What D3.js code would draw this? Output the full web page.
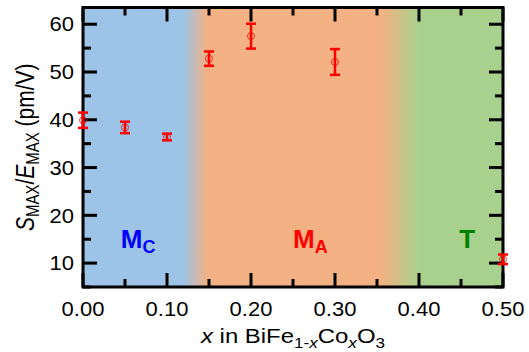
<!DOCTYPE html>
<html>
<head>
<meta charset="utf-8">
<script src="https://cdn.jsdelivr.net/npm/d3@7"></script>
<style>
	body { margin: 0; background: #fff; }
	text { font-family: 'Liberation Sans', Arial, sans-serif; }
</style>
</head>
<body>
<svg id="chart" width="529" height="352"></svg>
<script>
// NOTE data
const xValues = [0.0, 0.05, 0.1, 0.15, 0.2, 0.3, 0.5];
const yValues = [39.9, 38.4, 36.4, 52.8, 57.5, 52.1, 10.8];
const yErrors = [1.6, 1.2, 0.7, 1.5, 2.6, 2.7, 1.0];

const xTicks = [0, 0.1, 0.2, 0.3, 0.4, 0.5];
const xMinor = [0.05, 0.15, 0.25, 0.35, 0.45];
const yTicks = [10, 20, 30, 40, 50, 60];
const yMinor = [5, 15, 25, 35, 45, 55];

// phase background: [x, colour]
const phaseX = [0, 0.12, 0.148, 0.354, 0.4, 0.5];
const phaseColors = ['#9dc3e6', '#9dc3e6', '#f4b183', '#f4b183', '#a9d18e', '#a9d18e'];

const phaseNames = ['M', 'M', 'T'];
const phaseSubs = ['C', 'A', ''];
const phaseLabelX = [0.045, 0.25, 0.448];
const phaseLabelY = [13.2, 13.2, 13.2];
const phaseLabelColors = ['#0000ff', '#ff0000', '#008000'];

const svg = d3.select('#chart');
const margin = { left: 83, top: 7.5, right: 26, bottom: 65 };
const width = 529, height = 352;
const stretch = 1.1; // text in the picture is a little wide

const x = d3.scaleLinear().domain([0, 0.5]).range([margin.left, width - margin.right]);
const y = d3.scaleLinear().domain([5, 63.5]).range([height - margin.bottom, margin.top]);

// gradient background
const grad = svg.append('defs').append('linearGradient')
	.attr('id', 'phase')
	.attr('gradientUnits', 'userSpaceOnUse')
	.attr('x1', x(0)).attr('x2', x(0.5))
	.attr('y1', 0).attr('y2', 0);

grad.selectAll('stop')
	.data(phaseX)
	.enter()
	.append('stop')
	.attr('offset', (d) => d / 0.5)
	.attr('stop-color', (d, i) => phaseColors[i]);

svg.append('rect')
	.attr('x', x(0)).attr('y', y(63.5))
	.attr('width', x(0.5) - x(0))
	.attr('height', y(5) - y(63.5))
	.attr('fill', 'url(#phase)');

function place(px, py) {
	return 'translate(' + px + ',' + py + ') scale(' + stretch + ',1)';
}

// phase labels
phaseNames.forEach((name, i) => {
	const t = svg.append('text')
		.attr('x', x(phaseLabelX[i]))
		.attr('y', y(phaseLabelY[i]))
		.attr('fill', phaseLabelColors[i])
		.attr('font-weight', 'bold')
		.attr('font-size', 26)
		.text(name);
	if (phaseSubs[i]) {
		t.append('tspan')
			.attr('font-size', 18)
			.attr('dy', 5)
			.text(phaseSubs[i]);
	}
});

// ticks: inward on all four sides
const tickLen = 14, minorLen = 8;

function drawTicks(vals, len, axis) {
	vals.forEach((v) => {
		if (axis === 'x') {
			svg.append('line').attr('x1', x(v)).attr('x2', x(v))
				.attr('y1', y(5)).attr('y2', y(5) - len)
				.attr('stroke', '#000').attr('stroke-width', 3);
			svg.append('line').attr('x1', x(v)).attr('x2', x(v))
				.attr('y1', y(63.5)).attr('y2', y(63.5) + len)
				.attr('stroke', '#000').attr('stroke-width', 3);
		} else {
			svg.append('line').attr('y1', y(v)).attr('y2', y(v))
				.attr('x1', x(0)).attr('x2', x(0) + len)
				.attr('stroke', '#000').attr('stroke-width', 3);
			svg.append('line').attr('y1', y(v)).attr('y2', y(v))
				.attr('x1', x(0.5)).attr('x2', x(0.5) - len)
				.attr('stroke', '#000').attr('stroke-width', 3);
		}
	});
}

drawTicks(xTicks, tickLen, 'x');
drawTicks(xMinor, minorLen, 'x');
drawTicks(yTicks, tickLen, 'y');
drawTicks(yMinor, minorLen, 'y');

// frame
svg.append('rect')
	.attr('x', x(0)).attr('y', y(63.5))
	.attr('width', x(0.5) - x(0))
	.attr('height', y(5) - y(63.5))
	.attr('fill', 'none')
	.attr('stroke', '#000')
	.attr('stroke-width', 3);

// tick labels
svg.selectAll('.xlab')
	.data(xTicks)
	.enter()
	.append('text')
	.attr('class', 'xlab')
	.attr('transform', (d) => place(x(d), 316))
	.attr('text-anchor', 'middle')
	.attr('font-size', 20)
	.text((d) => d3.format('.2f')(d));

svg.selectAll('.ylab')
	.data(yTicks)
	.enter()
	.append('text')
	.attr('class', 'ylab')
	.attr('transform', (d) => place(74, y(d) + 7.2))
	.attr('text-anchor', 'end')
	.attr('font-size', 20)
	.text((d) => d);

// axis titles
const xt = svg.append('text')
	.attr('transform', 'translate(' + (x(0) + x(0.5)) / 2 + ',343) scale(1.14,1)')
	.attr('text-anchor', 'middle')
	.attr('font-size', 21);
xt.append('tspan').attr('font-style', 'italic').text('x');
xt.append('tspan').text(' in BiFe');
xt.append('tspan').attr('font-size', 15).attr('dy', 5).text('1-');
xt.append('tspan').attr('font-size', 15).attr('font-style', 'italic').text('x');
xt.append('tspan').attr('dy', -5).text('Co');
xt.append('tspan').attr('font-size', 15).attr('font-style', 'italic').attr('dy', 5).text('x');
xt.append('tspan').attr('dy', -5).text('O');
xt.append('tspan').attr('font-size', 15).attr('dy', 5).text('3');

const yt = svg.append('text')
	.attr('transform', 'translate(' + 34 + ',' + (y(5) + y(63.5)) / 2 + ') rotate(-90) scale(1,1.2)')
	.attr('text-anchor', 'middle')
	.attr('font-size', 21);
yt.append('tspan').attr('font-style', 'italic').text('S');
yt.append('tspan').attr('font-size', 15).attr('dy', 4).text('MAX');
yt.append('tspan').attr('dy', -4).text('/');
yt.append('tspan').attr('font-style', 'italic').text('E');
yt.append('tspan').attr('font-size', 15).attr('dy', 4).text('MAX');
yt.append('tspan').attr('dy', -4).text(' (pm/V)');

// error bars and markers
const pts = svg.selectAll('.pt')
	.data(xValues.map((v, i) => ({ x: v, y: yValues[i], e: yErrors[i] })))
	.enter()
	.append('g')
	.attr('class', 'pt');

pts.append('line')
	.attr('x1', (d) => x(d.x)).attr('x2', (d) => x(d.x))
	.attr('y1', (d) => y(d.y + d.e)).attr('y2', (d) => y(d.y - d.e))
	.attr('stroke', '#ff0000').attr('stroke-width', 2.5);

[1, -1].forEach((s) => {
	pts.append('line')
		.attr('x1', (d) => x(d.x) - 5).attr('x2', (d) => x(d.x) + 5)
		.attr('y1', (d) => y(d.y + s * d.e)).attr('y2', (d) => y(d.y + s * d.e))
		.attr('stroke', '#ff0000').attr('stroke-width', 2.5);
});

pts.append('circle')
	.attr('cx', (d) => x(d.x))
	.attr('cy', (d) => y(d.y))
	.attr('r', 3.5)
	.attr('fill', 'none')
	.attr('stroke', '#ff0000')
	.attr('stroke-width', 0.8);
</script>
</body>
</html>
